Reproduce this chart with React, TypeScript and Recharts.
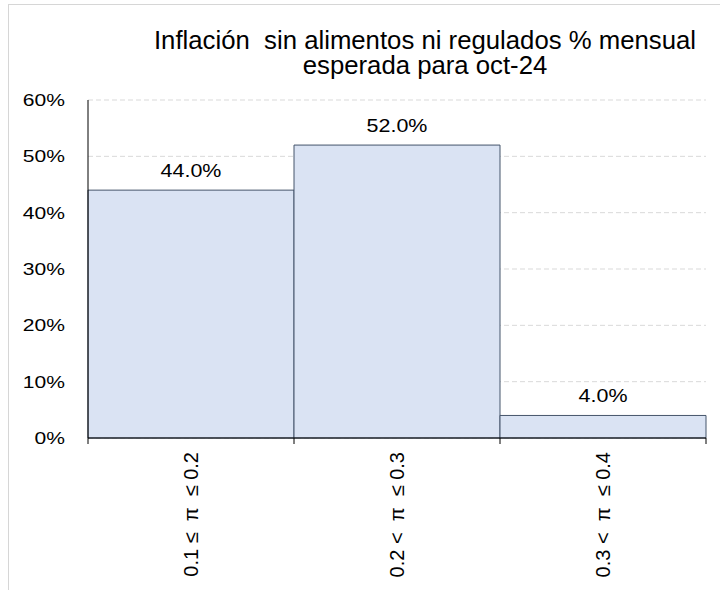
import { BarChart, Bar, XAxis, YAxis, CartesianGrid, LabelList } from 'recharts';

const titleLines = ['Inflación  sin alimentos ni regulados % mensual', 'esperada para oct-24'];
const categories = ['0.1 ≤  π  ≤ 0.2', '0.2 <  π  ≤ 0.3', '0.3 <  π  ≤ 0.4'];
const shares = [44.0, 52.0, 4.0];
const yTicks = [0, 10, 20, 30, 40, 50, 60];

const data = categories.map((name, i) => ({ name, value: shares[i] }));

const W = 720;
const H = 590;
const margin = { top: 100, right: 14, bottom: 122, left: 28 };
const yAxisWidth = 60;
const bandWidth = (W - margin.left - margin.right - yAxisWidth) / categories.length;

const font = '"Liberation Sans", Arial, sans-serif';

function BoundaryTick(props: any) {
  const { x, y, payload, index } = props;
  const left = x - bandWidth / 2;
  const right = x + bandWidth / 2;
  const ty = y + 14;
  return (
    <g>
      <line x1={left} y1={y} x2={left} y2={y + 6} stroke="#000" />
      {index === categories.length - 1 && (
        <line x1={right} y1={y} x2={right} y2={y + 6} stroke="#000" />
      )}
      <text
        x={x}
        y={ty}
        dy="0.35em"
        transform={`rotate(-90, ${x}, ${ty})`}
        textAnchor="end"
        fontSize={20}
        fill="#000"
        fontFamily={font}
        style={{ whiteSpace: 'pre' }}
      >
        {payload.value}
      </text>
    </g>
  );
}

function PercentTick(props: any) {
  const { y, payload } = props;
  return (
    <text
      transform={`translate(65, ${y}) scale(1.24, 1)`}
      dy="0.36em"
      textAnchor="end"
      fontSize={17}
      fill="#000"
      fontFamily={font}
    >
      {`${payload.value}%`}
    </text>
  );
}

function ValueLabel(props: any) {
  const { x, y, width, value } = props;
  const cx = x + width / 2;
  return (
    <text
      transform={`translate(${cx}, ${y - 13}) scale(1.13, 1)`}
      textAnchor="middle"
      fontSize={19}
      fill="#000"
      fontFamily={font}
    >
      {`${Number(value).toFixed(1)}%`}
    </text>
  );
}

export default function App() {
  return (
    <div style={{ position: 'absolute', left: 0, top: 0, width: W, height: H, background: '#fff', overflow: 'hidden', fontFamily: font }}>
      <div
        style={{
          position: 'absolute',
          left: 8,
          top: 4,
          width: W,
          height: H,
          borderTop: '1px solid #d6d6d6',
          borderLeft: '1px solid #d6d6d6',
        }}
      />
      <div style={{ position: 'absolute', left: 0, top: 0 }}>
        <BarChart width={W} height={H} data={data} margin={margin} barCategoryGap={0}>
          <CartesianGrid vertical={false} stroke="#d9d9d9" strokeDasharray="5 3" />
          <XAxis
            dataKey="name"
            axisLine={{ stroke: '#000' }}
            tickLine={false}
            tickSize={0}
            tickMargin={0}
            interval={0}
            tick={<BoundaryTick />}
          />
          <YAxis
            width={yAxisWidth}
            domain={[0, 60]}
            ticks={yTicks}
            axisLine={{ stroke: '#000' }}
            tickLine={false}
            tickSize={0}
            tick={<PercentTick />}
          />
          <Bar dataKey="value" fill="#dae3f3" stroke="#44546a" strokeWidth={1} isAnimationActive={false}>
            <LabelList dataKey="value" content={<ValueLabel />} />
          </Bar>
        </BarChart>
      </div>
      <svg width={W} height={H} style={{ position: 'absolute', left: 0, top: 0, pointerEvents: 'none' }}>
        {titleLines.map((line, i) => (
          <text
            key={line}
            transform={`translate(425, ${49 + i * 25}) scale(1.03, 1)`}
            textAnchor="middle"
            fontSize={25}
            fill="#000"
            fontFamily={font}
            style={{ whiteSpace: 'pre' }}
          >
            {line}
          </text>
        ))}
      </svg>
    </div>
  );
}
